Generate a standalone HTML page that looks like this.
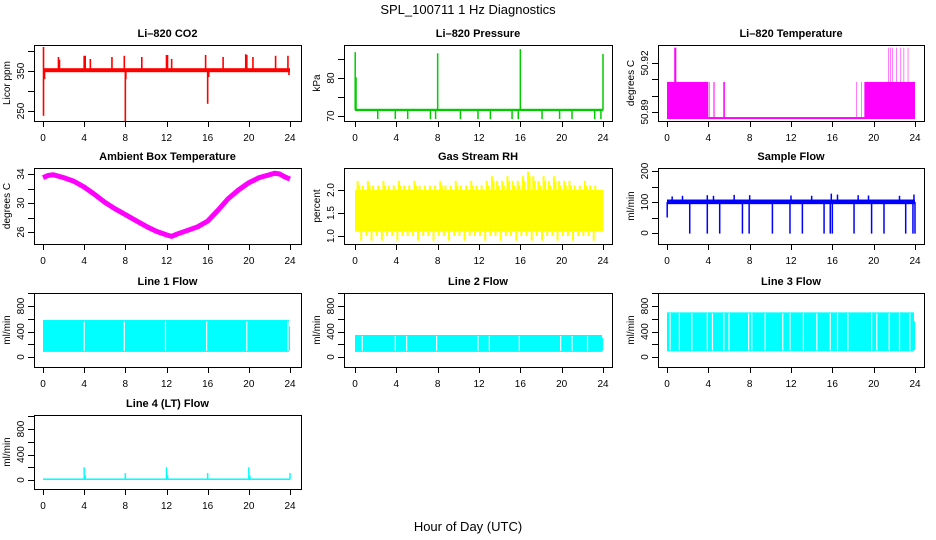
<!DOCTYPE html>
<html><head><meta charset="utf-8"><style>
html,body{margin:0;padding:0;background:#fff}
svg{display:block}
text{font-family:"Liberation Sans",sans-serif;fill:#000}
</style></head><body>
<svg id="chart" width="936" height="540" viewBox="0 0 936 540">
<text x="468" y="14" text-anchor="middle" font-size="13">SPL_100711  1 Hz Diagnostics</text>
<text x="468" y="531" text-anchor="middle" font-size="13">Hour of Day (UTC)</text>
</svg>
<script>
// ---- data ----
const xTicks = [0,4,8,12,16,20,24];
// CO2
const co2Base = [347,357];
const co2SpikeHours = [0.05,0.05,0.15,1.5,1.6,4.0,4.1,4.6,6.7,7.9,8.0,8.05,9.6,12.0,12.1,12.5,15.8,16.0,16.1,17.5,19.7,19.8,20.4,22.6,23.8,23.9];
const co2SpikeVals  = [410,238,330,385,378,388,388,380,385,388,222,330,385,390,390,380,390,268,335,385,392,390,385,388,388,340];
// Pressure
const presBase = 71.6;
const presDipHours = [2.2,3.9,5.1,7.3,7.8,10.2,11.9,13.1,15.2,15.8,18.1,19.8,21.0,23.2,23.8];
const presDipVal = 69.2;
const presSpikeHours = [0.02,0.1,8.0,16.0,24.0];
const presSpikeVals = [86.8,80.2,86.5,87.6,86.3];
// Li-820 temperature: intervals [start,end,value]
const tempLow = 50.8863;
const tempStarts = [0.0,0.7,4.1,4.5,5.45,18.3,18.8,19.1,21.4,21.6,21.8,22.2,22.6,22.9,23.3];
const tempEnds   = [4.0,0.9,4.15,4.6,5.6,18.35,18.85,24.0,21.45,21.65,21.85,22.25,22.65,22.95,23.35];
const tempVals   = [50.9084,50.9294,50.9084,50.9084,50.9084,50.9084,50.9084,50.9084,50.9294,50.9294,50.9294,50.9294,50.9294,50.9294,50.9294];
// Ambient box temperature
const ambHours = [0,0.5,1,2,3,4,5,6,7,8,9,10,11,12,12.5,13,14,15,16,17,18,19,20,21,22,22.5,23,23.5,24];
const ambVals  = [33.5,33.8,33.9,33.5,33,32.2,31.2,30.1,29.2,28.4,27.6,26.8,26.1,25.6,25.4,25.7,26.2,26.7,27.5,29,30.6,31.8,32.8,33.5,33.9,34.1,34,33.6,33.3];
// Gas stream RH: half-hour bins
const rhMax = [2.2,2.1,2.2,2.1,2.1,2.2,2.1,2.1,2.2,2.1,2.1,2.2,2.1,2.1,2.1,2.1,2.2,2.1,2.1,2.2,2.1,2.1,2.2,2.1,2.1,2.2,2.3,2.2,2.2,2.3,2.2,2.2,2.3,2.4,2.3,2.2,2.3,2.2,2.3,2.2,2.2,2.2,2.1,2.1,2.2,2.1,2.1,2.0];
const rhMin = [1.1,0.9,1.0,0.9,1.0,0.9,1.0,1.0,0.9,1.0,1.0,1.0,0.9,1.0,1.0,0.9,1.0,1.0,0.9,1.0,1.0,0.9,1.0,1.0,1.0,0.9,1.0,1.0,0.9,1.0,1.0,0.9,1.0,1.0,0.9,1.0,0.9,1.0,1.0,0.9,1.0,1.0,0.9,1.0,1.0,1.0,0.9,1.4];
// Sample flow
const sfBase = [93,108];
const sfDipHours = [2.2,3.9,5.1,7.3,7.95,10.2,11.9,13.1,15.2,15.8,16.0,18.1,19.8,21.0,23.1,23.8,24.0];
const sfSpikeHours = [0.5,1.5,3.9,4.5,6.5,8.0,12.0,14.0,15.9,16.5,18.5,19.5,22.5,23.9];
const sfSpikeVals  = [118,120,122,120,123,122,121,120,127,124,122,121,120,124];
// Line flows: [min,max] band and gaps
const l1Band = [80,580]; const l1End = 480;
const l1Gaps = [4.0,7.9,11.9,15.9,19.8,23.8];
const l2Band = [80,345]; const l2End = 300;
const l2Gaps = [0.7,3.9,5.0,7.9,11.9,13.0,15.9,19.9,21.0,22.5];
const l3Band = [90,700]; const l3End = 560;
const l3Gaps = [0.3,1.2,2.4,3.9,4.4,5.5,6.0,7.9,8.2,9.5,11.2,11.9,13.2,14.5,15.8,16.5,17.5,19.8,20.3,21.5,22.5,23.5];
// Line 4
const l4Base = 12;
const l4SpikeHours = [4.0,4.1,8.0,12.0,12.1,16.0,20.0,20.1,24.0];
const l4SpikeVals  = [200,70,110,200,80,110,200,70,110];

// ---- helpers ----
const svg = document.getElementById('chart');
const NS = 'http://www.w3.org/2000/svg';
function el(tag, attrs, parent){ const e=document.createElementNS(NS,tag); for(const k in attrs) e.setAttribute(k,attrs[k]); (parent||svg).appendChild(e); return e; }
function lin(v1,p1,v2,p2){ return v=>p1+(v-v1)*(p2-p1)/(v2-v1); }
const cols = [{bx0:34,bx1:301,x:lin(0,43,24,290)},{bx0:344,bx1:612,x:lin(0,355,24,603)},{bx0:658,bx1:924,x:lin(0,667,24,915)}];
const rows = [{by0:45,by1:121},{by0:168,by1:244},{by0:293,by1:367},{by0:415,by1:489}];

function panel(name,title,ylab,c,r,y,yTicks,yLabels){
  const C=cols[c],R=rows[r];
  const g=el('g',{});
  
  
  const t=el('text',{x:(C.bx0+C.bx1)/2,y:R.by0-8,'text-anchor':'middle','font-size':11,'font-weight':'bold'},g);
  t.textContent=title;
  
  
  const yl=el('text',{transform:`translate(${C.bx0-24},${(R.by0+R.by1)/2}) rotate(-90)`,'text-anchor':'middle','font-size':10},g);
  yl.textContent=ylab;
  
  
  const ax=el('g',{stroke:'#000','stroke-width':1,fill:'none'},g);
  
  
  el('line',{x1:C.x(0),x2:C.x(24),y1:R.by1+0.5,y2:R.by1+0.5},ax);
  xTicks.forEach(h=>{
    el('line',{x1:Math.round(C.x(h))+0.5,x2:Math.round(C.x(h))+0.5,y1:R.by1,y2:R.by1+6},ax);
    const tx=el('text',{x:C.x(h),y:R.by1+20,'text-anchor':'middle','font-size':10,stroke:'none'},g);
    tx.textContent=h;
    
    
  });
  const ty0=y(yTicks[0]),ty1=y(yTicks[yTicks.length-1]);
  el('line',{x1:C.bx0+0.5,x2:C.bx0+0.5,y1:ty0,y2:ty1},ax);
  yTicks.forEach(v=>{
    const py=Math.round(y(v))+0.5;
    el('line',{x1:C.bx0-6,x2:C.bx0,y1:py,y2:py},ax);
  });
  yLabels.forEach(v=>{
    const tl=el('text',{transform:`translate(${C.bx0-10},${y(v)}) rotate(-90)`,'text-anchor':'middle','font-size':10},g);
    tl.textContent=v;
    
    
  });
  const clip='clip-'+name;
  const cp=el('clipPath',{id:clip},g); el('rect',{x:C.bx0,y:R.by0,width:C.bx1-C.bx0,height:R.by1-R.by0},cp);
  const data=el('g',{'clip-path':`url(#${clip})`},g);
  
  
  el('rect',{x:C.bx0+0.5,y:R.by0+0.5,width:C.bx1-C.bx0,height:R.by1-R.by0,fill:'none',stroke:'#000'},g);
  return {g:data,x:C.x,y:y};
}
function vline(P,h,v1,v2,col,w){ el('line',{x1:P.x(h),x2:P.x(h),y1:P.y(v1),y2:P.y(v2),stroke:col,'stroke-width':w||1.5},P.g); }
function band(P,h1,h2,v1,v2,col){ const a=P.y(v1),b=P.y(v2); el('rect',{x:P.x(h1),y:Math.min(a,b),width:P.x(h2)-P.x(h1),height:Math.abs(b-a),fill:col},P.g); }

// CO2
let P=panel('co2','Li\u2013820 CO2','Licor ppm',0,0,lin(300,91,350,71),[250,300,350,400],[250,350]);
band(P,0,24,co2Base[0],co2Base[1],'#ff0000');
co2SpikeHours.forEach((h,i)=>vline(P,h,352,co2SpikeVals[i],'#ff0000',1.6));
// Pressure
P=panel('pressure','Li\u2013820 Pressure','kPa',1,0,lin(70,116,80,78),[70,75,80,85],[70,80]);
band(P,0,24,presBase-0.3,presBase+0.3,'#00cc00');
presDipHours.forEach(h=>vline(P,h,presBase,presDipVal,'#00cc00',1.5));
presSpikeHours.forEach((h,i)=>vline(P,h,presBase,presSpikeVals[i],'#00cc00',1.5));
// Li temp
P=panel('li-temp','Li\u2013820 Temperature','degrees C',2,0,lin(50.89,112,50.92,63),[50.89,50.90,50.91,50.92],['50.89','50.92']);
band(P,0,24,tempLow-0.0006,tempLow+0.0006,'#ff00ff');
tempStarts.forEach((s,i)=>band(P,s,tempEnds[i],tempLow,tempVals[i],'#ff00ff'));
// Ambient
P=panel('ambient-temp','Ambient Box Temperature','degrees C',0,1,lin(34,174,26,232),[26,28,30,32,34],[26,30,34]);
el('polyline',{points:ambHours.map((h,i)=>P.x(h)+','+P.y(ambVals[i])).join(' '),fill:'none',stroke:'#ff00ff','stroke-width':5,'stroke-linejoin':'round'},P.g);
// RH
P=panel('rh','Gas Stream RH','percent',1,1,lin(1.0,236,2.0,190),[1.0,1.5,2.0],['1.0','1.5','2.0']);
band(P,0,24,1.1,2.0,'#ffff00');
rhMax.forEach((v,i)=>{ band(P,i*0.5,i*0.5+0.5,1.1,2.0,'#ffff00'); vline(P,i*0.5+0.25,2.0,v,'#ffff00',2); vline(P,i*0.5+0.1,1.1,rhMin[i],'#ffff00',2); vline(P,i*0.5+0.4,2.0,v-0.1,'#ffff00',2);});
// Sample flow
P=panel('sample-flow','Sample Flow','ml/min',2,1,lin(0,233,200,171),[0,50,100,150,200],[0,100,200]);
band(P,0,24,sfBase[0],sfBase[1],'#0000ff');
vline(P,0.02,50,100,'#0000ff',1.5);
sfDipHours.forEach(h=>vline(P,h,100,-2,'#0000ff',1.5));
sfSpikeHours.forEach((h,i)=>vline(P,h,100,sfSpikeVals[i],'#0000ff',1.5));
// Line flows
function lineFlow(name,title,c,band2,end,gaps){
  const Q=panel(name,title,'ml/min',c,2,lin(0,357,800,306),[0,200,400,600,800,1000],[0,400,800]);
  band(Q,0,23.9,band2[0],band2[1],'#00ffff');
  band(Q,23.9,24,band2[0]+20,end,'#00ffff');
  gaps.forEach(h=>vline(Q,h,band2[0]+15,band2[1]-15,'#ffffff',1.2));
}
lineFlow('line1-flow','Line 1 Flow',0,l1Band,l1End,l1Gaps);
lineFlow('line2-flow','Line 2 Flow',1,l2Band,l2End,l2Gaps);
lineFlow('line3-flow','Line 3 Flow',2,l3Band,l3End,l3Gaps);
// Line 4
P=panel('line4-flow','Line 4 (LT) Flow','ml/min',0,3,lin(0,480,800,429),[0,200,400,600,800,1000],[0,400,800]);
band(P,0,24,l4Base-12,l4Base+12,'#00ffff');
l4SpikeHours.forEach((h,i)=>vline(P,h,l4Base,l4SpikeVals[i],'#00ffff',1.5));
</script>
</body></html>
